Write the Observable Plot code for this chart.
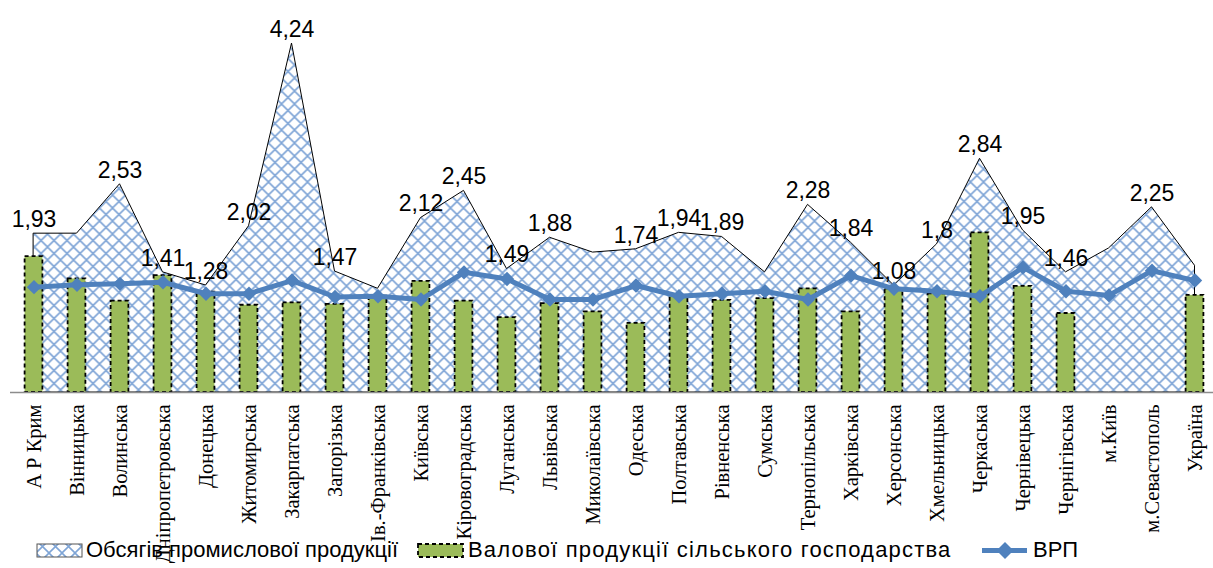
<!DOCTYPE html>
<html><head><meta charset="utf-8">
<script src="https://cdn.jsdelivr.net/npm/d3@7"></script>
<script src="https://cdn.jsdelivr.net/npm/@observablehq/plot@0.6"></script>
<style>
body{margin:0;background:#fff;}
#wrap{position:relative;width:1213px;height:568px;overflow:hidden;background:#fff;}
.leg{position:absolute;font-family:"Liberation Sans",Arial,sans-serif;font-size:22px;color:#000;line-height:24px;white-space:nowrap;}
.sw{position:absolute;}
</style></head><body><div id="wrap"></div>
<script>
const categories = ["А Р Крим","Вінницька","Волинська","Дніпропетровська","Донецька","Житомирська","Закарпатська","Запорізька","Ів.-Франківська","Київська","Кіровоградська","Луганська","Львівська","Миколаївська","Одеська","Полтавська","Рівненська","Сумська","Тернопільська","Харківська","Херсонська","Хмельницька","Черкаська","Чернівецька","Чернігівська","м.Київ","м.Севастополь","Україна"];
const industry = [1.93,1.93,2.53,1.46,1.30,2.02,4.24,1.47,1.26,2.12,2.45,1.50,1.88,1.70,1.74,1.94,1.89,1.46,2.28,1.82,1.30,1.80,2.84,1.97,1.46,1.75,2.25,1.54];
const industryLabels = ["1,93","","2,53","1,41","1,28","2,02","4,24","1,47","","2,12","2,45","1,49","1,88","","1,74","1,94","1,89","","2,28","1,84","1,08","1,8","2,84","1,95","1,46","","2,25",""];
const agriculture = [1.65,1.38,1.11,1.42,1.22,1.06,1.09,1.07,1.17,1.35,1.11,0.91,1.08,0.98,0.84,1.18,1.12,1.14,1.26,0.98,1.26,1.20,1.94,1.29,0.96,null,null,1.18];
const grp = [1.28,1.31,1.32,1.34,1.20,1.20,1.36,1.16,1.17,1.13,1.46,1.38,1.13,1.13,1.30,1.17,1.20,1.23,1.13,1.42,1.26,1.23,1.17,1.52,1.23,1.18,1.48,1.36];
const seriesNames = ["Обсягів промислової продукції","Валової продукції сільського господарства","ВРП"];

const data = categories.map((c,i)=>({cat:c, ind:industry[i], lab:industryLabels[i], agr:agriculture[i], grp:grp[i]}));

const chart = Plot.plot({
  width:1213, height:568,
  marginLeft:10, marginRight:0, marginTop:0, marginBottom:176,
  style:{fontFamily:"Liberation Sans, Arial, sans-serif", background:"white", overflow:"visible"},
  x:{type:"band", domain:categories, range:[10.4,1218.6], padding:0},
  y:{domain:[0,4.5], range:[392,21.65], axis:null},
  marks:[
    Plot.areaY(data,{x:"cat", y:"ind", fill:"url(#hatch)", stroke:"black", strokeWidth:1}),
    Plot.barY(data.filter(d=>d.agr!=null),{x:"cat", y:"agr", fill:"#9BBB59", stroke:"black", strokeWidth:1.8, strokeDasharray:"4,3", insetLeft:12.6, insetRight:12.6}),
    Plot.lineY(data,{x:"cat", y:"grp", stroke:"#4F81BD", strokeWidth:5}),
    Plot.dot(data,{x:"cat", y:"grp", symbol:"diamond2", r:6.5, fill:"#4F81BD", stroke:"none"}),
    Plot.text(data.filter(d=>d.lab!==""),{x:"cat", y:"ind", text:"lab", dy:-14, fontSize:23, fill:"black", fontFamily:"Liberation Sans, Arial, sans-serif"}),
    Plot.ruleY([0],{stroke:"#8c8c8c", strokeWidth:1.5}),
    Plot.axisX({tickRotate:-90, tickSize:0, tickPadding:12, fontSize:20.5, fontFamily:"Liberation Serif, Times New Roman, serif", label:null, fill:"black"})
  ]
});

const svg = d3.select(chart);
const defs = svg.insert("defs",":first-child");
const pat = defs.append("pattern").attr("id","hatch").attr("patternUnits","userSpaceOnUse").attr("width",13).attr("height",13);
pat.append("rect").attr("width",13).attr("height",13).attr("fill","white");
pat.append("path").attr("d","M0,0L13,13M13,0L0,13M-1,12L1,14M12,-1L14,1").attr("stroke","#7fa5d6").attr("stroke-width",1.6);

const wrap = document.getElementById("wrap");
wrap.appendChild(chart);

function addSwatch(x, svgContent){
  const d = document.createElement("div");
  d.className="sw"; d.style.left=x+"px"; d.style.top="540px";
  d.innerHTML = `<svg width="48" height="20" viewBox="0 0 48 20">${svgContent}</svg>`;
  wrap.appendChild(d);
}
function addText(x, t, ls){
  const d = document.createElement("div");
  d.className="leg"; d.style.left=x+"px"; d.style.top="538px"; d.textContent=t;
  if (ls) d.style.letterSpacing = ls;
  wrap.appendChild(d);
}
addSwatch(36, `<defs><pattern id="hatch2" patternUnits="userSpaceOnUse" width="13" height="13"><rect width="13" height="13" fill="white"/><path d="M0,0L13,13M13,0L0,13" stroke="#7fa5d6" stroke-width="1.6"/></pattern></defs><rect x="1" y="4" width="45" height="13" fill="url(#hatch2)" stroke="#555" stroke-width="1"/>`);
addText(86, seriesNames[0]);
addSwatch(417, `<rect x="1" y="4" width="45" height="13" fill="#9BBB59" stroke="black" stroke-width="1.8" stroke-dasharray="4,3"/>`);
addText(468, seriesNames[1], "1.2px");
addSwatch(981, `<line x1="1" y1="10.5" x2="46" y2="10.5" stroke="#4F81BD" stroke-width="5"/><path d="M24,2L32.5,10.5L24,19L15.5,10.5Z" fill="#4F81BD"/>`);
addText(1033, seriesNames[2]);
</script>
</body></html>
